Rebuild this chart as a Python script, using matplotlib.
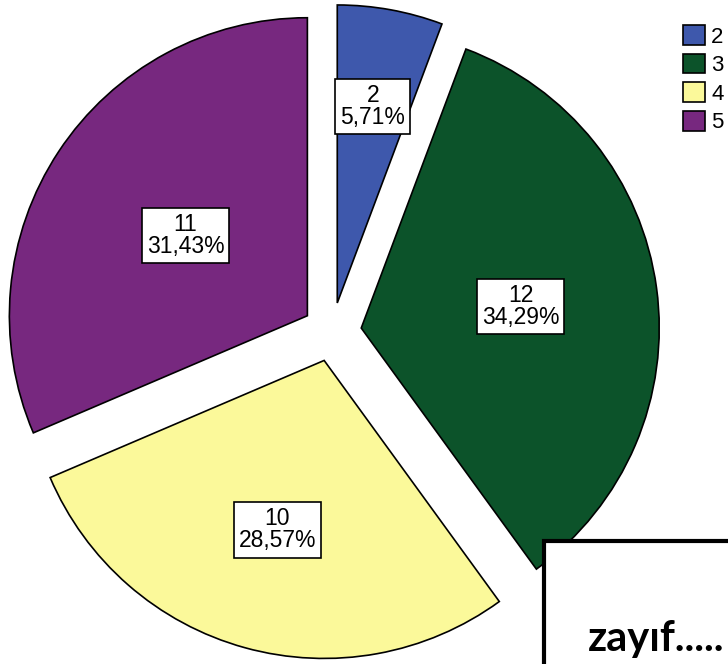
import numpy as np
import matplotlib.pyplot as plt
from matplotlib.patches import Rectangle

# pie data
categories = ['2', '3', '4', '5']
counts = [2, 12, 10, 11]
colors = ['#3E58AC', '#0C532A', '#FBF99A', '#77287F']
note_text = 'zayıf.....'

# label distance along each slice's bisector (fraction of radius)
label_r = [0.67, 0.54, 0.59, 0.49]

fig = plt.figure(figsize=(7.28, 6.64), dpi=100)
ax = fig.add_axes([0, 0, 1, 1])

R = 298
wedges, _ = ax.pie(counts, colors=colors, startangle=90, counterclock=False,
                   explode=[29.5] * len(counts), radius=R, center=(332, 332),
                   wedgeprops=dict(edgecolor='black', linewidth=1.2), frame=True)

total = sum(counts)
for i, w in enumerate(wedges):
    ang = np.deg2rad((w.theta1 + w.theta2) / 2)
    x = w.center[0] + label_r[i] * w.r * np.cos(ang)
    y = w.center[1] + label_r[i] * w.r * np.sin(ang)
    pct = '{:.2f}%'.format(100 * counts[i] / total).replace('.', ',')
    ax.text(x, y, '{}\n{}'.format(counts[i], pct), ha='center', va='center',
            fontsize=16.5, family='Liberation Sans', linespacing=0.95,
            bbox=dict(boxstyle='square,pad=0.22', fc='white', ec='black', lw=1.2))

ax.legend(wedges, categories, loc='upper left',
          bbox_to_anchor=(683 / 728, 1 - 25 / 664), bbox_transform=fig.transFigure,
          frameon=False, prop=dict(family='Liberation Sans', size=16),
          handlelength=1, handleheight=1, handletextpad=0.27,
          labelspacing=0.27, borderpad=0, borderaxespad=0)

# note box in the lower right corner
ax.add_patch(Rectangle((544, -20), 220, 664 - 541 + 20, fc='white', ec='black', lw=3))
ax.text(588, 664 - 651, note_text, fontsize=30, family='Lato', fontweight='bold',
        ha='left', va='baseline')

ax.set_xlim(0, 728)
ax.set_ylim(0, 664)
ax.axis('off')

fig.savefig('out.png', dpi=100)
